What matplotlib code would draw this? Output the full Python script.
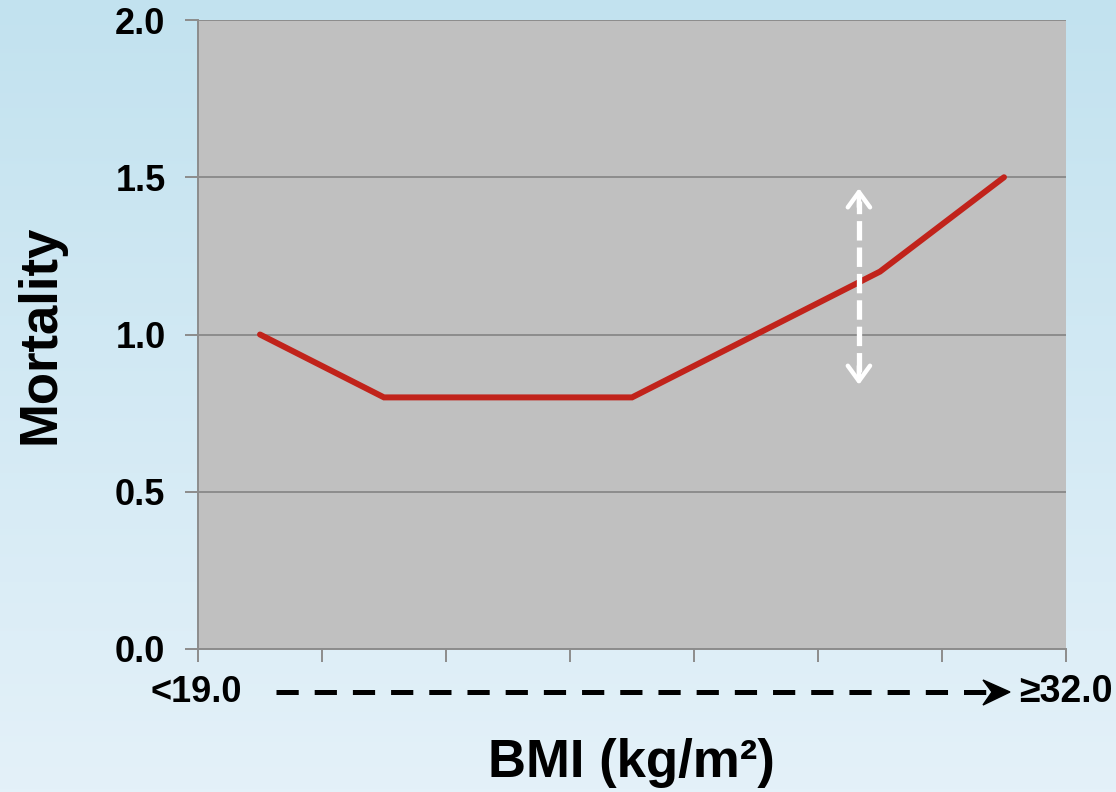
import numpy as np
import matplotlib.pyplot as plt
import matplotlib as mpl
from matplotlib.patches import Polygon
from matplotlib.lines import Line2D

mpl.rcParams['font.family'] = ['Liberation Sans', 'DejaVu Sans']
mpl.rcParams['font.weight'] = 'bold'
mpl.rcParams['lines.scale_dashes'] = False

# data: 7 BMI categories from <19.0 up to >=32.0
categories = np.arange(7)
mortality = [1.0, 0.8, 0.8, 0.8, 1.0, 1.2, 1.5]
y_ticks = [0.0, 0.5, 1.0, 1.5, 2.0]
y_ticklabels = ['0.0', '0.5', '1.0', '1.5', '2.0']
low_label = '<19.0'
high_label = '\u226532.0'

fig = plt.figure(figsize=(11.16, 7.92), dpi=100)

# light blue gradient background
bg = fig.add_axes([0, 0, 1, 1], zorder=-10)
grad = np.linspace(0, 1, 256).reshape(-1, 1)
top = np.array([194, 226, 239]) / 255
bot = np.array([228, 241, 249]) / 255
img = top + (bot - top) * grad[:, :, None] * np.ones((1, 1, 3))
img = img.reshape(256, 1, 3)
bg.imshow(img, aspect='auto', extent=[0, 1, 0, 1])
bg.axis('off')

ax = fig.add_axes([198 / 1116, 143 / 792, 868 / 1116, 629 / 792])
ax.set_facecolor('#c0c0c0')
ax.plot(categories, mortality, color='#c1231b', lw=4.3,
        solid_capstyle='round', solid_joinstyle='miter', zorder=3)

ax.set_xlim(-0.5, 6.5)
ax.set_ylim(0, 2)
ax.set_xticks(np.arange(-0.5, 7, 1))
ax.set_xticklabels([])
ax.set_yticks(y_ticks)
ax.set_yticklabels(y_ticklabels, fontsize=26, fontweight='bold')
ax.grid(axis='y', color='#8c8c8c', lw=1.4)
ax.set_axisbelow(True)
for s in ['top', 'right']:
    ax.spines[s].set_visible(False)
for s in ['left', 'bottom']:
    ax.spines[s].set_color('#8c8c8c')
    ax.spines[s].set_linewidth(1.4)
ax.tick_params(axis='both', length=9.4, width=1.4, color='#8c8c8c', direction='out')
ax.tick_params(axis='y', pad=14)

ax.set_ylabel('Mortality', fontsize=38, fontweight='bold')
ax.yaxis.set_label_coords(-0.153, 0.5)

# white dashed double arrow (variation marker)
ax_x = 4.83
y_lo, y_hi = 0.84, 1.465
ax.plot([ax_x, ax_x], [y_lo + 0.04, y_hi - 0.04], color='white', lw=3.8,
        linestyle=(0, (14, 5)), zorder=4)
for y0, y1 in [(y_hi - 0.06, y_hi), (y_lo + 0.06, y_lo)]:
    ax.annotate('', xy=(ax_x, y1), xytext=(ax_x, y0),
                arrowprops=dict(arrowstyle='->,head_length=1.1,head_width=0.8',
                                color='white', lw=3.2, shrinkA=0, shrinkB=0,
                                capstyle='round', joinstyle='round'),
                zorder=4)

# bottom range labels and black dashed arrow
fig.text(150 / 1116, 1 - 692 / 792, low_label, fontsize=26, fontweight='bold',
         ha='left', va='center')
fig.text(1019 / 1116, 1 - 692 / 792, high_label, fontsize=27, fontweight='bold',
         ha='left', va='center')
ya = 1 - 692 / 792
fig.add_artist(Line2D([276 / 1116, 988 / 1116], [ya, ya], color='black', lw=3.6,
                      linestyle=(0, (16, 11.5)), transform=fig.transFigure))
head = [(1010 / 1116, ya), (983 / 1116, ya + 12 / 792),
        (992 / 1116, ya), (983 / 1116, ya - 13 / 792)]
fig.add_artist(Polygon(head, closed=True, color='black', transform=fig.transFigure))

fig.text(631 / 1116, 1 - 763 / 792, 'BMI (kg/m\u00b2)', fontsize=38,
         fontweight='bold', ha='center', va='center')

fig.savefig('out.png', dpi=100)
